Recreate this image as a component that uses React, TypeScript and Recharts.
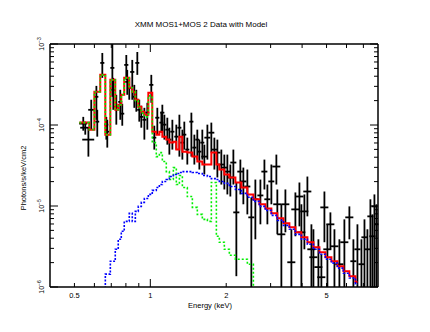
import { ComposedChart, ErrorBar, Line, Scatter, XAxis, YAxis } from "recharts";

// observed spectrum: bin centre (keV), half bin width (keV), flux and its 1-sigma range
const dataEnergy = [
  0.542, 0.552, 0.568, 0.583, 0.611, 0.616, 0.645, 0.669, 0.675, 0.707,
  0.713, 0.733, 0.76, 0.774, 0.803, 0.81, 0.825, 0.848, 0.864, 0.88,
  0.888, 0.904, 0.921, 0.947, 0.973, 1.009, 1.037, 1.066, 1.106, 1.116,
  1.137, 1.168, 1.19, 1.223, 1.268, 1.304, 1.34, 1.364, 1.402, 1.455,
  1.495, 1.536, 1.565, 1.608, 1.638, 1.684, 1.746, 1.795, 1.845, 1.913,
  1.966, 2.021, 2.077, 2.135, 2.194, 2.276, 2.339, 2.426, 2.516, 2.61,
  2.733, 2.835, 2.913, 3.021, 3.162, 3.19, 3.31, 3.434, 3.627, 3.762,
  3.903, 3.974, 4.084, 4.198, 4.355, 4.436, 4.642, 4.77, 4.904, 5.04,
  5.18, 5.374, 5.623, 5.885, 6.16, 6.39, 6.63, 6.877, 7.07, 7.262,
  7.464, 7.603, 7.743, 7.887,
];
const dataEnergyErr = [
  0.02, 0.025, 0.031, 0.016, 0.011, 0.011, 0.012, 0.012, 0.012, 0.013,
  0.013, 0.013, 0.014, 0.014, 0.015, 0.015, 0.015, 0.016, 0.016, 0.016,
  0.016, 0.017, 0.017, 0.017, 0.018, 0.019, 0.019, 0.02, 0.02, 0.021,
  0.021, 0.021, 0.022, 0.023, 0.023, 0.024, 0.025, 0.025, 0.026, 0.027,
  0.028, 0.028, 0.029, 0.03, 0.045, 0.046, 0.048, 0.05, 0.051, 0.053,
  0.054, 0.056, 0.057, 0.059, 0.061, 0.063, 0.065, 0.067, 0.069, 0.072,
  0.075, 0.078, 0.08, 0.083, 0.116, 0.117, 0.122, 0.126, 0.133, 0.138,
  0.144, 0.146, 0.15, 0.154, 0.16, 0.163, 0.171, 0.176, 0.18, 0.185,
  0.19, 0.198, 0.207, 0.217, 0.227, 0.176, 0.183, 0.19, 0.195, 0.2,
  0.206, 0.21, 0.21, 0.145,
];
const dataFlux = [
  1.04e-4, 9.26e-5, 6.6e-5, 1.54e-4, 2.23e-4, 1.1e-4, 5.84e-4, 1.01e-4, 8.27e-5, 5.07e-4,
  2.72e-4, 1.68e-4, 1.93e-4, 1.38e-4, 5.52e-4, 3.41e-4, 2.88e-4, 4.52e-4, 2.23e-4, 2.05e-4,
  5.84e-4, 1.54e-4, 1.26e-4, 1.16e-4, 1.42e-4, 3.13e-4, 6.98e-5, 1.23e-4, 1.07e-4, 1.42e-4,
  1.01e-4, 8.76e-5, 6.6e-5, 8.27e-5, 7.18e-5, 9.26e-5, 6.06e-5, 7.6e-5, 4.97e-5, 1.1e-4,
  5.26e-5, 6.6e-5, 4.69e-5, 6.06e-5, 4.07e-5, 6.98e-5, 8.04e-5, 4.97e-5, 4.56e-5, 3.25e-5,
  2.98e-5, 2.66e-5, 2.25e-5, 3.44e-5, 8.34e-6, 2.66e-5, 2.01e-5, 1.74e-5, 7.24e-6, 1.21e-5,
  1.35e-5, 2.66e-5, 1.21e-5, 2.01e-5, 3.07e-5, 1.05e-5, 4.47e-6, 1.05e-5, 2.02e-6, 9.08e-6,
  1.31e-5, 4.73e-6, 8.58e-6, 1.51e-5, 2.92e-6, 2.33e-6, 1.76e-6, 1.32e-6, 9.61e-6, 2.92e-6,
  5.94e-6, 3.18e-6, 1.91e-6, 3.57e-6, 7.24e-6, 2.08e-6, 2.92e-6, 1.91e-6, 4.11e-6, 2.92e-6,
  7.45e-6, 4.23e-6, 9.89e-6, 5.94e-6,
];
const dataFluxHigh = [
  1.26e-4, 1.1e-4, 9.26e-5, 2.05e-4, 3.04e-4, 1.54e-4, 7.75e-4, 1.26e-4, 1.16e-4, 1e-3,
  3.82e-4, 2.36e-4, 2.72e-4, 1.83e-4, 7.32e-4, 4.79e-4, 3.82e-4, 6.36e-4, 3.13e-4, 2.72e-4,
  7.97e-4, 2.05e-4, 1.73e-4, 1.63e-4, 1.88e-4, 4.16e-4, 9.8e-5, 1.63e-4, 1.46e-4, 1.78e-4,
  1.34e-4, 1.23e-4, 9.26e-5, 1.16e-4, 1.01e-4, 1.34e-4, 8.76e-5, 1.1e-4, 6.98e-5, 1.42e-4,
  7.6e-5, 8.76e-5, 6.6e-5, 8.76e-5, 5.72e-5, 1.01e-4, 1.07e-4, 6.98e-5, 6.6e-5, 4.97e-5,
  4.31e-5, 4.31e-5, 3.25e-5, 4.97e-5, 1.95e-5, 3.74e-5, 2.98e-5, 2.82e-5, 1.28e-5, 2.12e-5,
  2.12e-5, 3.74e-5, 1.84e-5, 3.25e-5, 4.31e-5, 1.6e-5, 1.05e-5, 1.6e-5, 5.16e-6, 1.47e-5,
  1.95e-5, 1.05e-5, 1.39e-5, 2.31e-5, 5.94e-6, 5.16e-6, 3.88e-6, 2.54e-6, 1.51e-5, 5.94e-6,
  8.34e-6, 5.16e-6, 3.88e-6, 6.84e-6, 9.89e-6, 3.88e-6, 5.94e-6, 3.88e-6, 6.84e-6, 5.16e-6,
  1.21e-5, 7.88e-6, 1.39e-5, 1.05e-5,
];
const dataFluxLow = [
  8.51e-5, 7.6e-5, 4.07e-5, 8.76e-5, 1.16e-4, 7.18e-5, 3.82e-4, 6.6e-5, 5.26e-5, 2.23e-4,
  1.54e-4, 1.01e-4, 1.16e-4, 9.8e-5, 3.61e-4, 2.36e-4, 2.05e-4, 2.05e-4, 1.63e-4, 1.46e-4,
  4.16e-4, 1.1e-4, 9.26e-5, 6.6e-5, 8.76e-5, 1.88e-4, 4.97e-5, 7.6e-5, 8.04e-5, 8.04e-5,
  6.6e-5, 5.72e-5, 4.31e-5, 4.97e-5, 4.97e-5, 4.07e-5, 3.74e-5, 4.97e-5, 3.25e-5, 4.07e-5,
  3.25e-5, 3.74e-5, 2.82e-5, 3.74e-5, 2.45e-5, 3.74e-5, 4.56e-5, 2.82e-5, 2.25e-5, 1.84e-5,
  1.6e-5, 1.39e-5, 1.31e-5, 1.84e-5, 1.36e-6, 1.39e-5, 1.05e-5, 7.88e-6, 1e-6, 3.88e-6,
  5.94e-6, 1.6e-5, 5.94e-6, 1.05e-5, 1.84e-5, 4.47e-6, 1e-6, 4.73e-6, 1e-6, 4.23e-6,
  5.61e-6, 1e-6, 2.92e-6, 7.45e-6, 1e-6, 1e-6, 1e-6, 1e-6, 3.57e-6, 1e-6,
  2.92e-6, 1e-6, 1e-6, 1e-6, 3.88e-6, 1e-6, 1e-6, 1e-6, 1e-6, 1e-6,
  1e-6, 1e-6, 1e-6, 1e-6,
];

// model histograms: lower bin edges (keV), last entry closes the final bin
const modelEnergy = [
  0.523, 0.573, 0.6, 0.633, 0.663, 0.694, 0.726, 0.746, 0.767, 0.788,
  0.825, 0.848, 0.872, 0.896, 0.921, 0.947, 0.982, 1.018, 1.056, 1.086,
  1.116, 1.157, 1.19, 1.234, 1.268, 1.304, 1.34, 1.402, 1.468, 1.536,
  1.608, 1.684, 1.746, 1.828, 1.878, 1.966, 2.058, 2.175, 2.297, 2.426,
  2.563, 2.707, 2.86, 3.021, 3.19, 3.372, 3.561, 3.762, 3.974, 4.198,
  4.436, 4.685, 4.949, 5.228, 5.523, 5.834, 6.16, 6.51, 6.63,
];
const modelTotal = [
  1.07e-4, 8.76e-5, 2.57e-4, 4.16e-4, 7.6e-5, 3.61e-4, 1.54e-4, 1.78e-4, 2.36e-4, 3.82e-4,
  2.88e-4, 2.57e-4, 2.05e-4, 1.68e-4, 1.46e-4, 1.34e-4, 2.5e-4, 8.27e-5, 7.6e-5, 8.27e-5,
  7.18e-5, 6.6e-5, 6.06e-5, 6.23e-5, 4.97e-5, 7.18e-5, 4.69e-5, 4.56e-5, 4.07e-5, 3.54e-5,
  3.25e-5, 3.25e-5, 4.56e-5, 3.25e-5, 2.82e-5, 2.45e-5, 2.25e-5, 1.95e-5, 1.69e-5, 1.39e-5,
  1.21e-5, 1.05e-5, 9.34e-6, 8.11e-6, 7.04e-6, 6.11e-6, 5.45e-6, 4.73e-6, 4.11e-6, 3.57e-6,
  3.09e-6, 2.69e-6, 2.33e-6, 2.08e-6, 1.81e-6, 1.57e-6, 1.36e-6, 1.15e-6, 1.15e-6,
];
const modelThermal = [
  1.07e-4, 8.76e-5, 2.57e-4, 4.16e-4, 7.6e-5, 3.61e-4, 1.54e-4, 1.78e-4, 2.36e-4, 3.82e-4,
  2.88e-4, 2.57e-4, 2.0e-4, 1.62e-4, 1.4e-4, 1.26e-4, 2.29e-4, 6.06e-5, 4.07e-5, 4.56e-5,
  3.54e-5, 2.66e-5, 2.12e-5, 2.98e-5, 1.84e-5, 2.38e-5, 1.69e-5, 1.31e-5, 9.61e-6, 7.88e-6,
  6.84e-6, 6.46e-6, 1.95e-5, 4.23e-6, 3.57e-6, 2.92e-6, 2.47e-6, 2.2e-6, 2.2e-6, 1.91e-6,
  5.35e-7, 5.35e-7, null, null, null, null, null, null, null, null,
  null, null, null, null, null, null, null, null, null,
];
const modelPowerlaw = [
  3.03e-7, 4.03e-7, 6.16e-7, 9.42e-7, 1.44e-6, 2.08e-6, 2.92e-6, 3.88e-6, 4.87e-6, 6.46e-6,
  8.11e-6, 6.46e-6, 8.58e-6, 9.89e-6, 1.11e-5, 1.24e-5, 1.39e-5, 1.56e-5, 1.69e-5, 1.84e-5,
  2.01e-5, 2.12e-5, 2.31e-5, 2.45e-5, 2.52e-5, 2.59e-5, 2.66e-5, 2.66e-5, 2.59e-5, 2.52e-5,
  2.38e-5, 2.31e-5, 2.18e-5, 2.12e-5, 2.01e-5, 1.9e-5, 1.74e-5, 1.6e-5, 1.43e-5, 1.28e-5,
  1.14e-5, 9.89e-6, 8.83e-6, 7.66e-6, 6.65e-6, 5.77e-6, 5.16e-6, 4.47e-6, 3.88e-6, 3.37e-6,
  2.92e-6, 2.54e-6, 2.2e-6, 1.97e-6, 1.71e-6, 1.48e-6, 1.29e-6, 1.09e-6, 1.09e-6,
];

const xTicks = [0.5, 0.6, 0.7, 0.8, 0.9, 1, 2, 3, 4, 5, 6, 7];
const xTickLabels = [0.5, 1, 2, 5];
const yTicks = [
  1e-6, 2e-6, 3e-6, 4e-6, 5e-6, 6e-6, 7e-6, 8e-6, 9e-6,
  1e-5, 2e-5, 3e-5, 4e-5, 5e-5, 6e-5, 7e-5, 8e-5, 9e-5,
  1e-4, 2e-4, 3e-4, 4e-4, 5e-4, 6e-4, 7e-4, 8e-4, 9e-4, 1e-3,
];

const points = dataEnergy.map((e, i) => ({
  e,
  f: dataFlux[i],
  ex: dataEnergyErr[i],
  ey: [dataFlux[i] - dataFluxLow[i], dataFluxHigh[i] - dataFlux[i]],
}));

const modelRows = modelEnergy.map((e, i) => ({
  e,
  total: modelTotal[i],
  thermal: modelThermal[i],
  powerlaw: modelPowerlaw[i],
}));

const font = "'Liberation Sans', Arial, Helvetica, sans-serif";
const isDecade = (v: number) => {
  const lg = Math.log10(v);
  return Math.abs(lg - Math.round(lg)) < 1e-6;
};

function BottomTick({ x, y, payload }: any) {
  const v = payload.value;
  const len = v === 1 ? 8 : 4;
  return (
    <g>
      <line x1={x} x2={x} y1={y} y2={y - len} stroke="#000" strokeWidth={1} />
      {xTickLabels.includes(v) && (
        <text x={x} y={y + 11} textAnchor="middle" fontSize={7.5} fontFamily={font} fill="#000">
          {String(v)}
        </text>
      )}
    </g>
  );
}

function TopTick({ x, y, payload }: any) {
  const len = payload.value === 1 ? 8 : 4;
  return <line x1={x} x2={x} y1={y} y2={y + len} stroke="#000" strokeWidth={1} />;
}

function LeftTick({ x, y, payload }: any) {
  const v = payload.value;
  const major = isDecade(v);
  const exp = Math.round(Math.log10(v));
  const tx = x - 6;
  return (
    <g>
      <line x1={x} x2={x + (major ? 8 : 4)} y1={y} y2={y} stroke="#000" strokeWidth={1} />
      {major && (
        <text
          x={tx}
          y={y}
          transform={`rotate(-90 ${tx} ${y})`}
          textAnchor="middle"
          fontSize={7}
          fontFamily={font}
          fill="#000"
        >
          10
          <tspan dy={-3} fontSize={5}>{`\u2212${-exp}`}</tspan>
        </text>
      )}
    </g>
  );
}

function RightTick({ x, y, payload }: any) {
  const len = isDecade(payload.value) ? 8 : 4;
  return <line x1={x} x2={x - len} y1={y} y2={y} stroke="#000" strokeWidth={1} />;
}

const hidden = () => <g />;
const frame = { stroke: "#000", strokeWidth: 1.5 };

export default function App() {
  return (
    <div style={{ position: "absolute", left: 0, top: 0, width: 430, height: 332, background: "#fff" }}>
      <ComposedChart width={430} height={332} margin={{ top: 43, right: 51, bottom: 44, left: 49 }}>
        <XAxis
          dataKey="e"
          type="number"
          scale="log"
          domain={[0.4, 8]}
          allowDataOverflow
          ticks={xTicks}
          interval={0}
          height={1}
          tickSize={0}
          tickMargin={0}
          tickLine={false}
          tick={<BottomTick />}
          axisLine={frame}
        />
        <XAxis
          xAxisId="top"
          orientation="top"
          dataKey="e"
          type="number"
          scale="log"
          domain={[0.4, 8]}
          allowDataOverflow
          ticks={xTicks}
          interval={0}
          height={1}
          tickSize={0}
          tickMargin={0}
          tickLine={false}
          tick={<TopTick />}
          axisLine={frame}
        />
        <YAxis
          type="number"
          scale="log"
          domain={[1e-6, 1e-3]}
          allowDataOverflow
          ticks={yTicks}
          interval={0}
          width={1}
          tickSize={0}
          tickMargin={0}
          tickLine={false}
          tick={<LeftTick />}
          axisLine={frame}
        />
        <YAxis
          yAxisId="right"
          orientation="right"
          type="number"
          scale="log"
          domain={[1e-6, 1e-3]}
          allowDataOverflow
          ticks={yTicks}
          interval={0}
          width={1}
          tickSize={0}
          tickMargin={0}
          tickLine={false}
          tick={<RightTick />}
          axisLine={frame}
        />
        <Scatter data={points} dataKey="f" shape={hidden} isAnimationActive={false}>
          <ErrorBar dataKey="ey" direction="y" width={0} stroke="#000" strokeWidth={1.8} />
          <ErrorBar dataKey="ex" direction="x" width={0} stroke="#000" strokeWidth={1.8} />
        </Scatter>
        <Line
          data={modelRows}
          dataKey="total"
          type="stepAfter"
          stroke="#ff0000"
          strokeWidth={2}
          dot={false}
          activeDot={false}
          isAnimationActive={false}
        />
        <Line
          data={modelRows}
          dataKey="thermal"
          type="stepAfter"
          stroke="#00ee00"
          strokeWidth={1.6}
          strokeDasharray="2 2"
          dot={false}
          activeDot={false}
          isAnimationActive={false}
        />
        <Line
          data={modelRows}
          dataKey="powerlaw"
          type="stepAfter"
          stroke="#0000ff"
          strokeWidth={1.6}
          strokeDasharray="2 1.5"
          dot={false}
          activeDot={false}
          isAnimationActive={false}
        />
      </ComposedChart>
      <div
        style={{
          position: "absolute",
          left: 0,
          width: 402,
          top: 21,
          textAlign: "center",
          fontFamily: font,
          fontSize: 8,
          lineHeight: "8px",
          color: "#000",
          whiteSpace: "nowrap",
        }}
      >
        XMM MOS1+MOS 2 Data with Model
      </div>
      <div
        style={{
          position: "absolute",
          left: 0,
          width: 420,
          top: 302,
          textAlign: "center",
          fontFamily: font,
          fontSize: 7.5,
          lineHeight: "8px",
          color: "#000",
          whiteSpace: "nowrap",
        }}
      >
        Energy (keV)
      </div>
      <div
        style={{
          position: "absolute",
          left: 24,
          top: 178,
          transform: "translate(-50%, -50%) rotate(-90deg)",
          fontFamily: font,
          fontSize: 7.5,
          lineHeight: "8px",
          color: "#000",
          whiteSpace: "nowrap",
        }}
      >
        Photons/s/keV/cm2
      </div>
    </div>
  );
}
